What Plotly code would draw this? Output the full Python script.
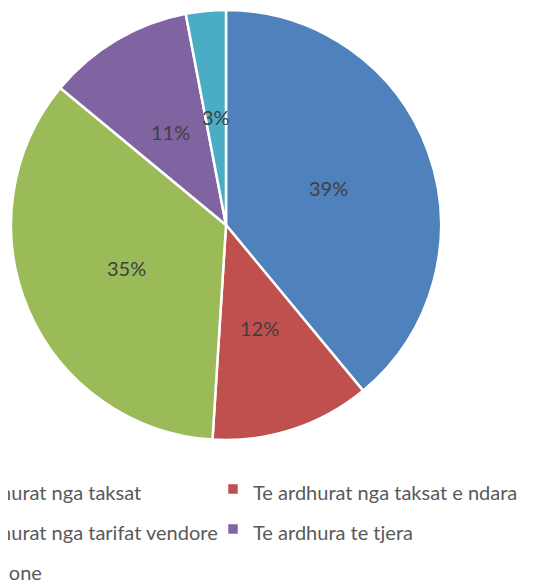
import math
import plotly.graph_objects as go

categories = [
    "Te ardhurat nga taksat",
    "Te ardhurat nga taksat e ndara",
    "Te ardhurat nga tarifat vendore",
    "Te ardhura te tjera",
    "Donacione",
]
values = [39, 12, 35, 11, 3]
colors = ["#4F81BD", "#C0504D", "#9BBB59", "#8064A2", "#4BACC6"]

# figure geometry (page has an 8px body margin)
FW, FH = 700, 584
MB = 130
PH = FH - MB
PIE_L, PIE_R, PIE_T, PIE_B = 3, 433, 2, 432
cx, cy = (PIE_L + PIE_R) / 2, (PIE_T + PIE_B) / 2
R = (PIE_R - PIE_L) / 2
LABEL_R = 0.505 * R

legend_labels = ['<span style="font-size:20px">' + c + '</span>' for c in categories]

fig = go.Figure(
    go.Pie(
        labels=legend_labels,
        values=values,
        sort=False,
        direction="clockwise",
        rotation=0,
        marker=dict(colors=colors, line=dict(color="white", width=2.5)),
        textinfo="none",
        domain=dict(x=[PIE_L / FW, PIE_R / FW], y=[1 - PIE_B / PH, 1 - PIE_T / PH]),
        hoverinfo="label+percent",
    )
)

# percentage labels at the middle of each slice (Excel "center" style)
total = sum(values)
cum = 0
annotations = []
for v in values:
    mid = (cum + v / 2) / total * 2 * math.pi
    cum += v
    px = cx + LABEL_R * math.sin(mid)
    py = cy - LABEL_R * math.cos(mid)
    annotations.append(
        dict(
            x=px / FW,
            y=1 - py / PH,
            xref="paper",
            yref="paper",
            text=f"{round(100 * v / total)}%",
            showarrow=False,
            font=dict(family="Lato", size=20, color="#404040"),
            xanchor="center",
            yanchor="middle",
        )
    )

fig.update_layout(
    width=FW,
    height=FH,
    margin=dict(l=0, r=0, t=0, b=MB, autoexpand=False),
    paper_bgcolor="white",
    plot_bgcolor="white",
    font=dict(family="Lato", color="#595959"),
    annotations=annotations,
    showlegend=True,
    legend=dict(
        orientation="h",
        x=-101 / FW,
        xanchor="left",
        y=-(456 - PH) / PH,
        yanchor="top",
        entrywidth=261,
        entrywidthmode="pixels",
        font=dict(family="Lato", size=28.5, color="#595959"),
        traceorder="normal",
    ),
)

fig.write_html("out.html")
